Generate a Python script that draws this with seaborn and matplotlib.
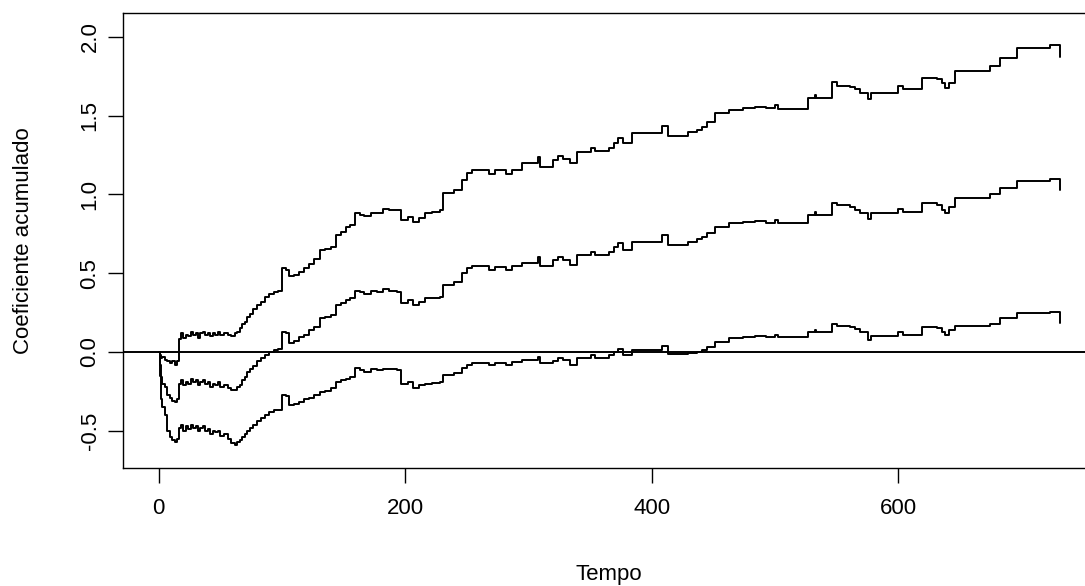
import matplotlib
matplotlib.use("Agg")
import matplotlib.pyplot as plt
import numpy as np
import pandas as pd
import seaborn as sns

# Event times (days) and the cumulative coefficient with its confidence limits
tempo = [0, 1, 2, 3, 5, 7, 9, 11, 13, 15, 17, 18, 20, 22, 24, 26, 28, 30, 32, 34,
         36, 38, 40, 42, 44, 46, 48, 50, 53, 56, 59, 62, 64, 66, 68, 70, 72, 74, 77, 80,
         83, 86, 90, 94, 97, 100, 103, 106, 110, 114, 118, 122, 126, 131, 135, 140, 144, 148, 152, 155,
         159, 163, 167, 172, 177, 182, 187, 193, 197, 202, 206, 211, 216, 222, 228, 231, 240, 246, 250, 254,
         268, 273, 282, 287, 295, 308, 309, 320, 324, 328, 334, 339, 351, 354, 365, 369, 373, 377, 384, 408,
         413, 429, 437, 441, 445, 451, 463, 474, 484, 493, 500, 502, 527, 532, 533, 546, 550, 561, 565, 569,
         575, 578, 600, 604, 619, 631, 635, 638, 641, 646, 674, 682, 696, 723, 731]

coef = [0.00, -0.08, -0.16, -0.20, -0.22, -0.27, -0.29, -0.31, -0.32, -0.30, -0.20, -0.18, -0.21, -0.19, -0.20, -0.17, -0.19, -0.18, -0.21, -0.19,
        -0.18, -0.20, -0.19, -0.22, -0.20, -0.21, -0.19, -0.22, -0.21, -0.23, -0.24, -0.24, -0.22, -0.21, -0.18, -0.16, -0.13, -0.11, -0.09, -0.06,
        -0.04, -0.02, 0.00, 0.01, 0.02, 0.13, 0.12, 0.06, 0.07, 0.095, 0.11, 0.14, 0.16, 0.215, 0.22, 0.235, 0.30, 0.31, 0.33, 0.34,
        0.39, 0.38, 0.37, 0.385, 0.38, 0.40, 0.39, 0.38, 0.31, 0.33, 0.30, 0.32, 0.34, 0.345, 0.35, 0.425, 0.445, 0.50, 0.53, 0.545,
        0.52, 0.54, 0.52, 0.545, 0.565, 0.60, 0.545, 0.585, 0.60, 0.585, 0.55, 0.615, 0.635, 0.615, 0.635, 0.665, 0.69, 0.65, 0.70, 0.74,
        0.68, 0.70, 0.72, 0.73, 0.755, 0.79, 0.82, 0.825, 0.83, 0.82, 0.84, 0.82, 0.87, 0.89, 0.87, 0.945, 0.93, 0.92, 0.90, 0.88,
        0.845, 0.88, 0.91, 0.89, 0.945, 0.93, 0.90, 0.88, 0.92, 0.975, 1.00, 1.04, 1.085, 1.10, 1.03]

ic_sup = [0.00, -0.02, -0.04, -0.03, -0.05, -0.06, -0.07, -0.06, -0.08, -0.06, 0.08, 0.12, 0.09, 0.11, 0.10, 0.13, 0.11, 0.12, 0.09, 0.12,
          0.13, 0.11, 0.12, 0.10, 0.12, 0.11, 0.13, 0.11, 0.12, 0.11, 0.10, 0.12, 0.13, 0.15, 0.18, 0.19, 0.22, 0.24, 0.27, 0.30,
          0.32, 0.35, 0.37, 0.38, 0.39, 0.53, 0.52, 0.48, 0.49, 0.51, 0.53, 0.56, 0.59, 0.65, 0.655, 0.665, 0.74, 0.76, 0.79, 0.805,
          0.88, 0.87, 0.865, 0.88, 0.88, 0.91, 0.90, 0.90, 0.84, 0.855, 0.825, 0.85, 0.88, 0.89, 0.90, 1.01, 1.03, 1.09, 1.135, 1.155,
          1.13, 1.155, 1.13, 1.155, 1.20, 1.24, 1.175, 1.22, 1.245, 1.225, 1.20, 1.27, 1.295, 1.275, 1.295, 1.325, 1.36, 1.325, 1.39, 1.435,
          1.37, 1.395, 1.41, 1.43, 1.46, 1.515, 1.535, 1.55, 1.555, 1.55, 1.57, 1.545, 1.61, 1.63, 1.61, 1.715, 1.69, 1.68, 1.67, 1.645,
          1.605, 1.645, 1.69, 1.67, 1.74, 1.73, 1.705, 1.675, 1.71, 1.78, 1.815, 1.865, 1.93, 1.95, 1.87]

ic_inf = [0.00, -0.15, -0.30, -0.35, -0.40, -0.50, -0.54, -0.56, -0.57, -0.55, -0.48, -0.46, -0.50, -0.47, -0.49, -0.46, -0.48, -0.47, -0.50, -0.48,
          -0.47, -0.50, -0.49, -0.52, -0.50, -0.51, -0.50, -0.53, -0.52, -0.55, -0.58, -0.59, -0.57, -0.56, -0.54, -0.52, -0.50, -0.48, -0.46, -0.44,
          -0.42, -0.40, -0.38, -0.37, -0.37, -0.27, -0.28, -0.335, -0.33, -0.315, -0.30, -0.29, -0.27, -0.255, -0.245, -0.23, -0.19, -0.18, -0.17, -0.16,
          -0.10, -0.115, -0.125, -0.11, -0.115, -0.105, -0.11, -0.115, -0.20, -0.19, -0.23, -0.21, -0.20, -0.195, -0.19, -0.145, -0.135, -0.10, -0.085, -0.07,
          -0.085, -0.07, -0.085, -0.065, -0.05, -0.03, -0.07, -0.06, -0.04, -0.05, -0.08, -0.04, -0.02, -0.04, -0.02, 0.00, 0.02, -0.02, 0.01, 0.04,
          -0.01, -0.005, 0.00, 0.01, 0.03, 0.065, 0.09, 0.095, 0.10, 0.095, 0.11, 0.095, 0.125, 0.14, 0.125, 0.18, 0.165, 0.16, 0.145, 0.125,
          0.075, 0.10, 0.125, 0.11, 0.16, 0.15, 0.13, 0.11, 0.14, 0.165, 0.18, 0.215, 0.245, 0.255, 0.185]

x_ticks = [0, 200, 400, 600]
y_ticks = [-0.5, 0.0, 0.5, 1.0, 1.5, 2.0]

df = pd.DataFrame({"Tempo": tempo, "coef": coef, "sup": ic_sup, "inf": ic_inf})

sns.set_style("ticks")
plt.rcParams["font.family"] = ["Liberation Sans", "DejaVu Sans"]
plt.rcParams["text.color"] = "black"
plt.rcParams["axes.labelcolor"] = "black"

fig = plt.figure(figsize=(10.85, 5.86), dpi=100)
ax = fig.add_axes([122.5 / 1085, 118 / 586, (1096 - 122.5) / 1085, 455 / 586])

for col in ["sup", "coef", "inf"]:
    sns.lineplot(data=df, x="Tempo", y=col, ax=ax, color="black", lw=1.4,
                 drawstyle="steps-post", estimator=None, sort=False)

ax.axhline(0, color="black", lw=1.4)

ax.set_xlim(-29.2, 760.2)
ax.set_ylim(-0.736, 2.151)
ax.set_xticks(x_ticks)
ax.set_xticklabels([str(v) for v in x_ticks])
ax.set_yticks(y_ticks)
ax.set_yticklabels([f"{v:.1f}" for v in y_ticks], rotation=90, va="center")

for s in ax.spines.values():
    s.set_linewidth(1.0)
    s.set_color("black")
    s.set_visible(True)

ax.tick_params(axis="both", direction="out", length=10.8, width=1.0, colors="black",
               labelsize=16, labelcolor="black")
ax.tick_params(axis="x", pad=10.5)
ax.tick_params(axis="y", pad=5)

ax.set_xlabel("Tempo", fontsize=16, labelpad=33, color="black")
ax.set_ylabel("Coeficiente acumulado", fontsize=16, labelpad=33, color="black")

fig.savefig("out.png", dpi=100)
